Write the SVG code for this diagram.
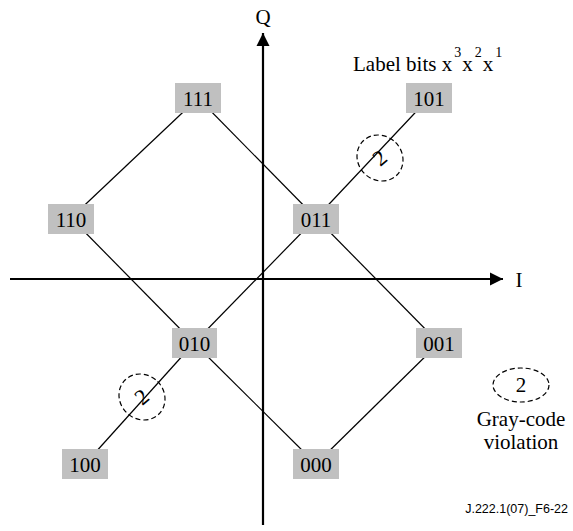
<svg xmlns="http://www.w3.org/2000/svg" width="573" height="531" viewBox="0 0 573 531">
<style>
.ln{stroke:#000;stroke-width:1.2;fill:none}
.ax{stroke:#000;stroke-width:2.2;fill:none}
.box{fill:#c0c0c0}
.t{font-family:"Liberation Serif","Times New Roman",serif;font-size:21px;fill:#000;text-anchor:middle}
.dash{stroke:#000;stroke-width:1.2;fill:none;stroke-dasharray:5,3}
</style>
<defs>
<marker id="ah" viewBox="0 0 10 10" refX="10" refY="5" markerWidth="6" markerHeight="6" markerUnits="strokeWidth" orient="auto">
<path d="M0,0 L10,5 L0,10 z" fill="#000"/>
</marker>
</defs>
<rect width="573" height="531" fill="#fff"/>
<g id="connectors">
<line class="ax" x1="10" y1="279" x2="503" y2="279" marker-end="url(#ah)"/>
<line class="ax" x1="263" y1="525" x2="263" y2="33" marker-end="url(#ah)"/>
<line class="ln" x1="71" y1="218" x2="198" y2="98"/>
<line class="ln" x1="198" y1="98" x2="316" y2="218"/>
<line class="ln" x1="316" y1="218" x2="429" y2="98"/>
<line class="ln" x1="71" y1="218" x2="194" y2="343"/>
<line class="ln" x1="194" y1="343" x2="316" y2="218"/>
<line class="ln" x1="194" y1="343" x2="316" y2="464"/>
<line class="ln" x1="316" y1="218" x2="439" y2="343"/>
<line class="ln" x1="439" y1="343" x2="316" y2="464"/>
<line class="ln" x1="194" y1="343" x2="85" y2="464"/>
</g>
<g id="violation-upper">
<ellipse class="dash" cx="380" cy="158" rx="22" ry="24" transform="rotate(-45 380 158)"/>
<text class="t" x="380" y="165" style="font-size:22px" transform="rotate(-40 380 158)">2</text>
</g>
<g id="violation-lower">
<ellipse class="dash" cx="142" cy="397" rx="22" ry="24" transform="rotate(-45 142 397)"/>
<text class="t" x="142" y="404" style="font-size:22px" transform="rotate(-40 142 397)">2</text>
</g>
<g id="n111"><rect class="box" x="175" y="83" width="46" height="30"/><text class="t" x="198" y="106">111</text></g>
<g id="n101"><rect class="box" x="406" y="83" width="46" height="30"/><text class="t" x="429" y="106">101</text></g>
<g id="n110"><rect class="box" x="48" y="204" width="46" height="30"/><text class="t" x="71" y="227">110</text></g>
<g id="n011"><rect class="box" x="293" y="204" width="46" height="30"/><text class="t" x="316" y="227">011</text></g>
<g id="n010"><rect class="box" x="172" y="328" width="45" height="30"/><text class="t" x="194.5" y="351">010</text></g>
<g id="n001"><rect class="box" x="416" y="328" width="46" height="30"/><text class="t" x="439" y="351">001</text></g>
<g id="n100"><rect class="box" x="62" y="449" width="46" height="30"/><text class="t" x="85" y="472">100</text></g>
<g id="n000"><rect class="box" x="293" y="449" width="46" height="30"/><text class="t" x="316" y="472">000</text></g>
<g id="labels">
<text class="t" x="263" y="24">Q</text>
<text class="t" x="519" y="287">I</text>
<text x="353" y="71" style="font-family:'Liberation Serif','Times New Roman',serif;font-size:21px">Label bits x<tspan dy="-14" dx="2" font-size="14">3</tspan><tspan dy="14" dx="1">x</tspan><tspan dy="-14" dx="2" font-size="14">2</tspan><tspan dy="14" dx="1">x</tspan><tspan dy="-14" dx="2" font-size="14">1</tspan></text>
<ellipse class="dash" cx="521" cy="385" rx="28" ry="17"/>
<text class="t" x="521" y="392">2</text>
<text class="t" x="521" y="426">Gray-code</text>
<text class="t" x="521" y="449">violation</text>
<text x="568" y="513" style="font-family:'Liberation Sans',Arial,sans-serif;font-size:12.5px;text-anchor:end">J.222.1(07)_F6-22</text>
</g>
</svg>
